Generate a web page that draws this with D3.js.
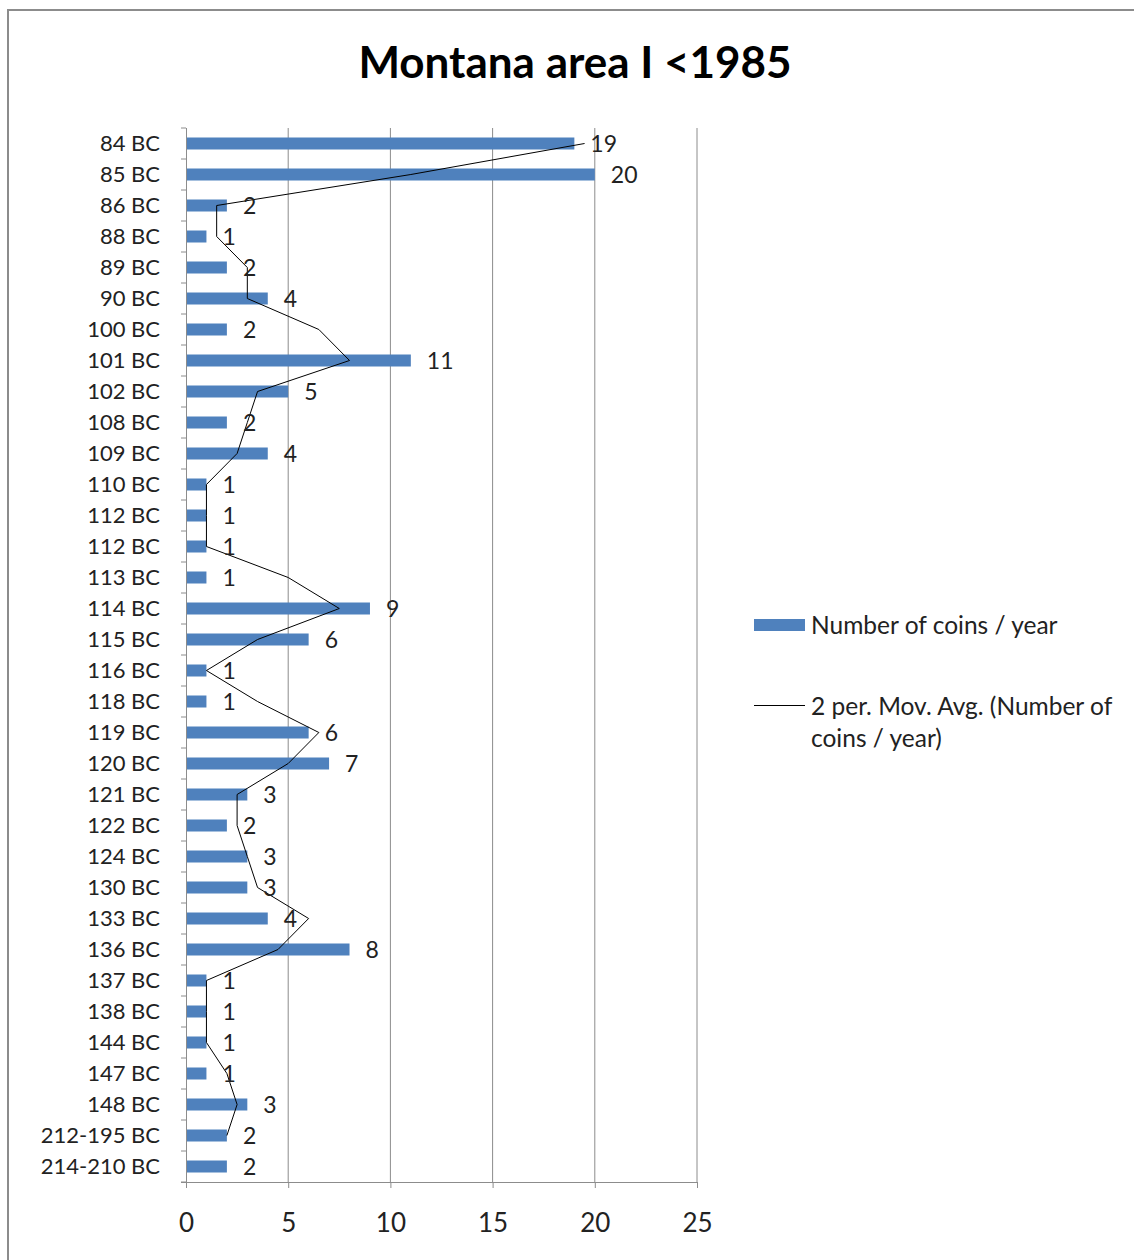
<!DOCTYPE html>
<html><head><meta charset="utf-8">
<script src="https://cdn.jsdelivr.net/npm/d3@7"></script>
<style>body{margin:0;background:#fff}svg{display:block}text{font-family:Lato,"Open Sans",sans-serif}</style>
</head><body><svg id="c" width="1134" height="1260"></svg>
<script>
const categories = ["84 BC","85 BC","86 BC","88 BC","89 BC","90 BC","100 BC","101 BC","102 BC","108 BC","109 BC","110 BC","112 BC","112 BC ","113 BC","114 BC","115 BC","116 BC","118 BC","119 BC","120 BC","121 BC","122 BC","124 BC","130 BC","133 BC","136 BC","137 BC","138 BC","144 BC","147 BC","148 BC","212-195 BC","214-210 BC"];
const coins = [19,20,2,1,2,4,2,11,5,2,4,1,1,1,1,9,6,1,1,6,7,3,2,3,3,4,8,1,1,1,1,3,2,2];
// 2-period moving average as drawn (null where undefined)
const movAvg = [19.5,11,1.5,1.5,3,3,6.5,8,3.5,3,2.5,1,1,1,5,7.5,3.5,1,3.5,6.5,5,2.5,2.5,3,3.5,6,4.5,1,1,1,2,2.5,2,null];
const xTicks = [0,5,10,15,20,25];
const title = "Montana area I <1985";
const legendLabels = ["Number of coins / year", ["2 per. Mov. Avg. (Number of","coins / year)"]];

(function(){
const svg = d3.select("#c");
const blue = "#4F81BD";
svg.append("rect").attr("x",8).attr("y",10).attr("width",1200).attr("height",1300)
  .attr("fill","#fff").attr("stroke","#8c8c8c").attr("stroke-width",2);

svg.append("text").attr("x",575).attr("y",78).attr("text-anchor","middle")
  .attr("font-size",44).attr("font-weight","bold").text(title);

const pL=186, pR=697, pT=128, pB=1182;
const x = d3.scaleLinear().domain([0,25]).range([pL,pR]);
const y = d3.scaleBand().domain(categories.map((d,i)=>i)).range([pT,pB]).paddingInner(0).paddingOuter(0);

svg.append("g").selectAll("line").data(xTicks.slice(1)).join("line")
  .attr("x1",d=>x(d)).attr("x2",d=>x(d)).attr("y1",pT).attr("y2",pB)
  .attr("stroke","#8c8c8c").attr("stroke-width",1);

const xa = svg.append("g").attr("transform",`translate(0,${pB})`)
  .call(d3.axisBottom(x).tickValues(xTicks).tickSize(6).tickPadding(26));
xa.select(".domain").attr("stroke","#8c8c8c").attr("d",`M${pL-5},0.5H${pR}`);
xa.selectAll(".tick line").attr("stroke","#8c8c8c");
xa.selectAll("text").attr("font-size",26).attr("fill","#222").style("font-family","Lato");

const yaxis = svg.append("g").attr("transform",`translate(${pL},0)`);
yaxis.append("line").attr("x1",0.5).attr("x2",0.5).attr("y1",pT).attr("y2",pB).attr("stroke","#8c8c8c");
const bounds = d3.range(categories.length+1).map(i=>pT+i*y.step());
yaxis.selectAll("line.t").data(bounds).join("line").attr("class","t")
  .attr("x1",-5).attr("x2",0).attr("y1",d=>d).attr("y2",d=>d).attr("stroke","#8c8c8c");
yaxis.selectAll("text").data(categories).join("text")
  .attr("x",-26).attr("y",(d,i)=>y(i)+y.bandwidth()/2).attr("dy","0.35em")
  .attr("text-anchor","end").attr("font-size",22).attr("fill","#222").text(d=>d.trim());

const bh = 12;
svg.append("g").selectAll("rect").data(coins).join("rect")
  .attr("x",x(0)+1).attr("y",(d,i)=>y(i)+y.bandwidth()/2-bh/2)
  .attr("width",d=>x(d)-x(0)-1).attr("height",bh).attr("fill",blue);

const lineGen = d3.line().defined(d=>d.v!=null).x(d=>x(d.v)).y(d=>y(d.i)+y.bandwidth()/2);
svg.append("path").datum(movAvg.map((v,i)=>({v,i})))
  .attr("d",lineGen).attr("fill","none").attr("stroke","#000").attr("stroke-width",1);

svg.append("g").selectAll("text").data(coins).join("text")
  .attr("x",d=>x(d)+16).attr("y",(d,i)=>y(i)+y.bandwidth()/2).attr("dy","0.38em")
  .attr("font-size",23).attr("fill","#222").text(d=>d);

svg.append("rect").attr("x",754).attr("y",619).attr("width",51).attr("height",12).attr("fill",blue);
svg.append("text").attr("x",811).attr("y",625).attr("dy","0.35em").attr("font-size",24.5).attr("fill","#222").text(legendLabels[0]);
svg.append("line").attr("x1",754).attr("x2",805).attr("y1",705.5).attr("y2",705.5).attr("stroke","#000");
svg.append("text").attr("x",811).attr("y",706).attr("dy","0.35em").attr("font-size",24.5).attr("fill","#222").text(legendLabels[1][0]);
svg.append("text").attr("x",811).attr("y",738).attr("dy","0.35em").attr("font-size",24.5).attr("fill","#222").text(legendLabels[1][1]);
})();
</script></body></html>
